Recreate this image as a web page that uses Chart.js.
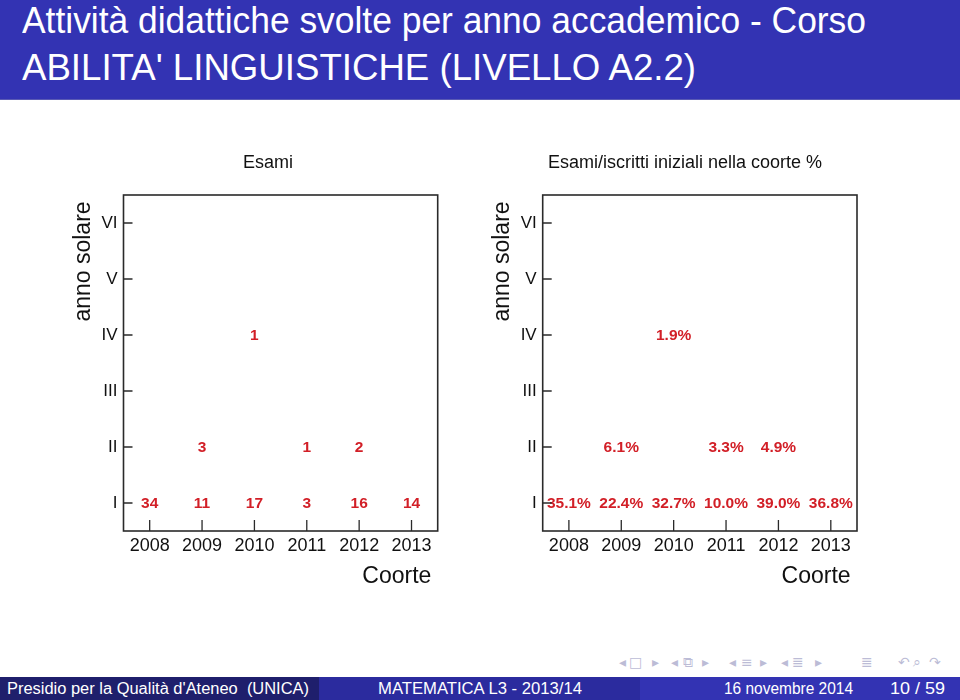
<!DOCTYPE html>
<html><head><meta charset="utf-8">
<script src="https://cdn.jsdelivr.net/npm/chart.js@4.4.1/dist/chart.umd.min.js"></script>
<style>
html,body{margin:0;padding:0;background:#fff;width:960px;height:700px;overflow:hidden;font-family:"Liberation Sans",Arial,sans-serif;}
#header{position:absolute;left:0;top:0;width:960px;height:99px;background:#3333b3;border-bottom:1px solid #5a5ab4;}
.fit{position:absolute;white-space:nowrap;transform-origin:0 0;line-height:1;}
.ht{color:#fff;font-size:36px;}
.ft{color:#fff;font-size:16px;}
.seg{position:absolute;top:677px;height:23px;}
.nav{position:absolute;top:653px;font-family:"DejaVu Sans",sans-serif;font-size:14px;line-height:18px;color:#bcbcd6;}
canvas{position:absolute;}
</style>
</head>
<body>
<div id="header"></div>
<div class="fit ht" data-w="844" style="left:22px;top:3px;">Attività didattiche svolte per anno accademico - Corso</div>
<div class="fit ht" data-w="674" style="left:22px;top:50px;">ABILITA' LINGUISTICHE (LIVELLO A2.2)</div>

<canvas id="c1" width="420" height="460" style="left:40px;top:140px;"></canvas>
<canvas id="c2" width="420" height="460" style="left:470px;top:140px;"></canvas>

<div id="navbar"></div>

<div class="seg" style="left:0;width:319px;background:#1f1f6c;"></div>
<div class="seg" style="left:319px;width:321px;background:#2b2b9e;"></div>
<div class="seg" style="left:640px;width:320px;background:#3333b3;"></div>
<div class="fit ft" data-w="302" style="left:7px;top:681px;">Presidio per la Qualità d'Ateneo&nbsp; (UNICA)</div>
<div class="fit ft" data-w="204" style="left:378px;top:681px;">MATEMATICA L3 - 2013/14</div>
<div class="fit ft" data-w="129" style="left:724px;top:681px;">16 novembre 2014</div>
<div class="fit ft" data-w="55" style="left:890px;top:681px;">10 / 59</div>

<script>
// ---- data ----
const years = [2008, 2009, 2010, 2011, 2012, 2013];
const yearRows = ['I', 'II', 'III', 'IV', 'V', 'VI'];
const esamiI  = [34, 11, 17, 3, 16, 14];
const esamiII = [null, 3, null, 1, 2, null];
const esamiIV = [null, null, 1, null, null, null];
const pctI  = [35.1, 22.4, 32.7, 10.0, 39.0, 36.8];
const pctII = [null, 6.1, null, 3.3, 4.9, null];
const pctIV = [null, null, 1.9, null, null, null];
const titleLeft = 'Esami';
const titleRight = 'Esami/iscritti iniziali nella coorte %';

// ---- fit header/footer texts ----
document.querySelectorAll('.fit').forEach(el => {
  const w = el.getBoundingClientRect().width;
  const target = +el.dataset.w;
  el.style.transform = 'scaleX(' + (target / w) + ')';
});

// ---- nav symbols ----
const navItems = [['◂',619],['□',629],['▸',652],['◂',671],['⧉',683],['▸',702],['◂',729],['≡',741],['▸',760],['◂',781],['≣',792],['▸',815],['≣',861],['↶',898],['⌕',913],['↷',929]];
const nb = document.getElementById('navbar');
navItems.forEach(([g, x]) => {
  const s = document.createElement('span');
  s.className = 'nav'; s.textContent = g; s.style.left = x + 'px';
  nb.appendChild(s);
});

// ---- chart helpers ----
function rowPoints(vals, row) {
  const pts = [];
  vals.forEach((v, i) => { if (v !== null) pts.push({x: years[i], y: row, v: v}); });
  return pts;
}

const cellText = {
  id: 'cellText',
  afterDatasetsDraw(chart, args, opts) {
    const ctx = chart.ctx;
    ctx.save();
    ctx.fillStyle = '#d21f27';
    ctx.font = 'bold 15.5px "Liberation Sans", Arial, sans-serif';
    ctx.textAlign = 'center';
    ctx.textBaseline = 'middle';
    chart.data.datasets.forEach((ds, di) => {
      const meta = chart.getDatasetMeta(di);
      meta.data.forEach((el, i) => {
        ctx.fillText(opts.fmt(ds.data[i].v), el.x, el.y + 1);
      });
    });
    ctx.restore();
  }
};

const frame = {
  id: 'frame',
  afterDraw(chart, args, opts) {
    const {ctx, chartArea: a, scales} = chart;
    ctx.save();
    ctx.strokeStyle = '#2a2a2a';
    ctx.lineWidth = 1.6;
    ctx.strokeRect(a.left, a.top, a.right - a.left, a.bottom - a.top);
    ctx.lineWidth = 1.3;
    ctx.beginPath();
    scales.x.ticks.forEach(t => {
      const px = scales.x.getPixelForValue(t.value);
      ctx.moveTo(px, a.bottom); ctx.lineTo(px, a.bottom - 11);
    });
    scales.y.ticks.forEach(t => {
      const py = scales.y.getPixelForValue(t.value);
      ctx.moveTo(a.left, py); ctx.lineTo(a.left + 9, py);
    });
    ctx.stroke();
    // title
    ctx.fillStyle = '#111';
    ctx.font = '18px "Liberation Sans", Arial, sans-serif';
    ctx.textAlign = 'center';
    ctx.textBaseline = 'middle';
    ctx.fillText(opts.text, a.left + (a.right - a.left) * opts.pos, a.top - 32);
    ctx.restore();
  }
};

function makeChart(id, series, fmt, title, titlePos, pad, yWidth) {
  const rows = [1, 2, 4];
  new Chart(document.getElementById(id), {
    type: 'scatter',
    data: {
      datasets: series.map((s, k) => ({
        data: rowPoints(s, rows[k]),
        pointRadius: 0, pointHoverRadius: 0, showLine: false
      }))
    },
    options: {
      responsive: false, animation: false, events: [],
      layout: { padding: pad },
      plugins: {
        legend: { display: false }, tooltip: { enabled: false }, title: { display: false },
        cellText: { fmt: fmt },
        frame: { text: title, pos: titlePos }
      },
      scales: {
        x: {
          type: 'linear', min: 2007.5, max: 2013.5,
          afterBuildTicks: s => { s.ticks = years.map(v => ({value: v})); },
          ticks: { callback: v => String(v), padding: 4, color: '#111', autoSkip: false, maxRotation: 0,
                   font: { size: 18, family: '"Liberation Sans", Arial, sans-serif' } },
          grid: { display: false, drawTicks: false },
          border: { display: false },
          title: { display: true, text: 'Coorte ', align: 'end', color: '#111', padding: 0,
                   font: { size: 23, family: '"Liberation Sans", Arial, sans-serif' } },
          afterFit: s => { s.height = 59.8; }
        },
        y: {
          type: 'linear', min: 0.5, max: 6.5,
          afterBuildTicks: s => { s.ticks = yearRows.map((_, i) => ({value: i + 1})); },
          ticks: { callback: v => yearRows[Math.round(v) - 1], padding: 6, color: '#111', autoSkip: false,
                   font: { size: 17, family: '"Liberation Sans", Arial, sans-serif' } },
          grid: { display: false, drawTicks: false },
          border: { display: false },
          title: { display: true, text: 'anno solare ', align: 'end', color: '#111', padding: 0,
                   font: { size: 23, family: '"Liberation Sans", Arial, sans-serif' } },
          afterFit: s => { s.width = yWidth; }
        }
      }
    },
    plugins: [cellText, frame]
  });
}

makeChart('c1', [esamiI, esamiII, esamiIV], v => String(v), titleLeft, 0.46,
          { left: 30.2, right: 22.3, top: 55, bottom: 9.2 }, 53.3);
makeChart('c2', [pctI, pctII, pctIV], v => v.toFixed(1) + '%', titleRight, 0.453,
          { left: 19.2, right: 33, top: 55, bottom: 9.2 }, 53.5);
</script>
</body></html>
